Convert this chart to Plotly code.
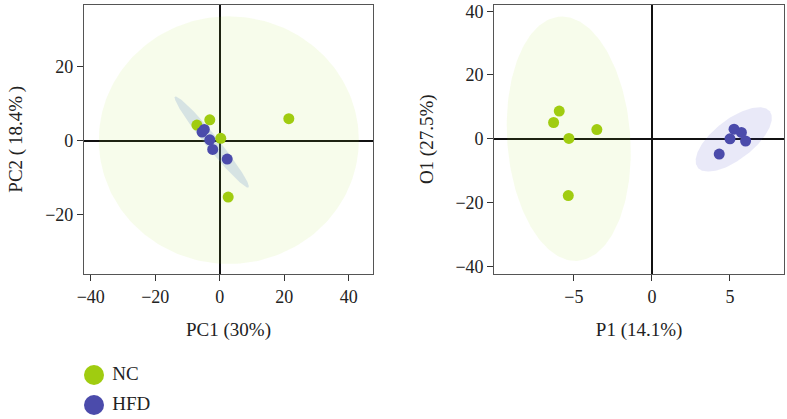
import numpy as np
import plotly.graph_objects as go

# ---------------- data ----------------
groups = ["NC", "HFD"]
colors = {"NC": "#a0cc10", "HFD": "#4b4bab"}

# PCA scores (left panel)
pca_nc_x = [21.4, -3.1, -7.1, 0.3, 2.6]
pca_nc_y = [5.9, 5.6, 4.2, 0.6, -15.3]
pca_hfd_x = [-5.5, -4.8, -3.1, -2.2, 2.3]
pca_hfd_y = [2.3, 3.0, 0.2, -2.4, -5.0]

# OPLS-DA scores (right panel)
opls_nc_x = [-5.94, -6.3, -5.32, -3.53, -5.36]
opls_nc_y = [8.7, 5.1, 0.1, 2.9, -17.8]
opls_hfd_x = [5.26, 5.73, 5.0, 6.0, 4.31]
opls_hfd_y = [3.0, 2.0, 0.0, -0.7, -4.8]

# confidence ellipses: center, half-axis vector a, half-axis vector b
pca_nc_ell = [(2.8, 0.1), (40.3, 0.0), (0.0, 33.5)]
pca_hfd_ell = [(-2.5, -0.4), (11.4, -12.3), (1.57, 1.11)]
opls_nc_ell = [(-5.33, 0.0), (-0.43, 38.3), (3.95, 0.0)]
opls_hfd_ell = [(5.24, -0.2), (2.31, 8.8), (0.79, -4.93)]

pca_xticks = [-40, -20, 0, 20, 40]
pca_yticks = [-20, 0, 20]
opls_xticks = [-5, 0, 5]
opls_yticks = [-40, -20, 0, 20, 40]

pca_xtitle = "PC1 (30%)"
pca_ytitle = "PC2 (\u200918.4%\u2009)"
opls_xtitle = "P1 (14.1%)"
opls_ytitle = "O1 (27.5%)"


def ellipse(params):
    (cx, cy), (ax, ay), (bx, by) = params
    t = np.linspace(0, 2 * np.pi, 200)
    return cx + ax * np.cos(t) + bx * np.sin(t), cy + ay * np.cos(t) + by * np.sin(t)


def minus(v):
    return str(v).replace("-", "\u2212")


fig = go.Figure()

ell_fill = {
    "pca_nc": "rgba(170,225,30,0.09)",
    "pca_hfd": "rgba(100,140,200,0.22)",
    "opls_nc": "rgba(170,225,30,0.09)",
    "opls_hfd": "rgba(75,70,200,0.12)",
}

for key, par, xa, ya in [
    ("pca_nc", pca_nc_ell, "x", "y"),
    ("pca_hfd", pca_hfd_ell, "x", "y"),
    ("opls_nc", opls_nc_ell, "x2", "y2"),
    ("opls_hfd", opls_hfd_ell, "x2", "y2"),
]:
    ex, ey = ellipse(par)
    fig.add_trace(go.Scatter(x=ex, y=ey, mode="lines", fill="toself",
                             fillcolor=ell_fill[key], line=dict(width=0),
                             showlegend=False, hoverinfo="skip", xaxis=xa, yaxis=ya))

mk = 11
fig.add_trace(go.Scatter(x=pca_nc_x, y=pca_nc_y, mode="markers", name="NC",
                         marker=dict(color=colors["NC"], size=mk), showlegend=False))
fig.add_trace(go.Scatter(x=pca_hfd_x, y=pca_hfd_y, mode="markers", name="HFD",
                         marker=dict(color=colors["HFD"], size=mk), showlegend=False))
fig.add_trace(go.Scatter(x=opls_nc_x, y=opls_nc_y, mode="markers", name="NC",
                         marker=dict(color=colors["NC"], size=mk),
                         showlegend=False, xaxis="x2", yaxis="y2"))
fig.add_trace(go.Scatter(x=opls_hfd_x, y=opls_hfd_y, mode="markers", name="HFD",
                         marker=dict(color=colors["HFD"], size=mk),
                         showlegend=False, xaxis="x2", yaxis="y2"))

# legend drawn in its own small invisible axis
leg_y = list(range(len(groups)))[::-1]
fig.add_trace(go.Scatter(x=[0] * len(groups), y=leg_y, mode="markers+text",
                         text=[" " + g for g in groups], textposition="middle right",
                         textfont=dict(family="Liberation Serif, DejaVu Serif, serif",
                                       size=19, color="#222"),
                         marker=dict(color=[colors[g] for g in groups], size=20),
                         showlegend=False, hoverinfo="skip", xaxis="x3", yaxis="y3",
                         cliponaxis=False))

FAM = "Liberation Serif, DejaVu Serif, serif"
font = dict(family=FAM, size=18, color="#222")

axis_common = dict(showgrid=False, showline=True, mirror=True, linecolor="#555",
                   linewidth=1.2, ticks="outside", ticklen=6, tickcolor="#333",
                   zeroline=True, zerolinecolor="#111", zerolinewidth=2, automargin=False,
                   tickfont=font, title_font=dict(family=FAM, size=19, color="#222"))

ydom = [1 - 274 / 419, 1 - 4.5 / 419]

fig.update_layout(
    width=787, height=419,
    margin=dict(l=0, r=0, t=0, b=0),
    paper_bgcolor="white", plot_bgcolor="white",
    font=font,
    xaxis=dict(domain=[84 / 787, 373 / 787], range=[-42.1, 47.5], tickvals=pca_xticks,
               ticktext=[minus(v) for v in pca_xticks],
               title=dict(text=pca_xtitle, standoff=16), anchor="y", **axis_common),
    yaxis=dict(domain=ydom, range=[-36.1, 36.8], tickvals=pca_yticks,
               ticktext=[minus(v) for v in pca_yticks],
               title=dict(text=pca_ytitle, standoff=17), anchor="x", **axis_common),
    xaxis2=dict(domain=[494.3 / 787, 784 / 787], range=[-10.1, 8.46], tickvals=opls_xticks,
                ticktext=[minus(v) for v in opls_xticks],
                title=dict(text=opls_xtitle, standoff=16), anchor="y2", **axis_common),
    yaxis2=dict(domain=ydom, range=[-42.4, 42.1], tickvals=opls_yticks,
                ticktext=[minus(v) for v in opls_yticks],
                title=dict(text=opls_ytitle, standoff=16), anchor="x2", **axis_common),
    xaxis3=dict(domain=[84 / 787, 200 / 787], range=[-0.5, 5.3], visible=False,
                fixedrange=True, anchor="y3"),
    yaxis3=dict(domain=[0, 1 - 360 / 419], range=[-0.467, 1.5],
                visible=False, fixedrange=True, anchor="x3"),
    showlegend=False,
)

fig.write_html("out.html", config={"displayModeBar": False},
               post_script="document.body.style.margin='0';document.body.style.padding='0';")
